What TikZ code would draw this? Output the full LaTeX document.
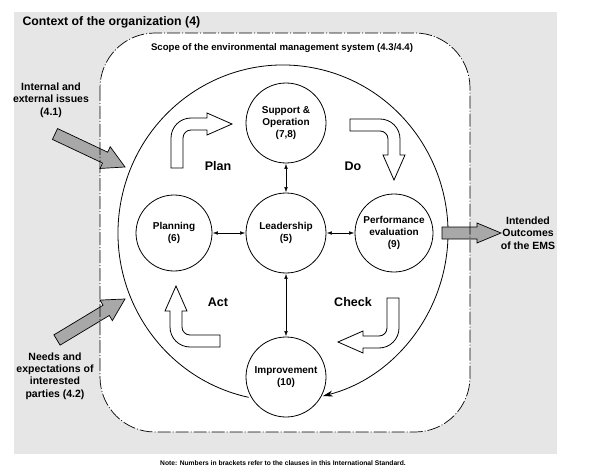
\documentclass[tikz,border=0pt]{standalone}
\usepackage{fontspec}
\setmainfont{Liberation Sans}
\usetikzlibrary{arrows.meta,calc}
\definecolor{bggray}{HTML}{E6E6E6}
\definecolor{arrgray}{HTML}{A8A8A8}
\tikzset{
  proc/.style={circle,draw,line width=0.8pt,fill=white,minimum size=80pt,inner sep=0pt,align=center,font=\bfseries\fontsize{10}{12}\selectfont},
  lbl/.style={align=center,font=\bfseries\fontsize{10.5}{12.3}\selectfont},
  phase/.style={font=\bfseries\fontsize{12.5}{14}\selectfont},
  link/.style={line width=0.5pt,{Latex[length=5pt,width=3.6pt]}-{Latex[length=5pt,width=3.6pt]},shorten >=0.5pt,shorten <=0.5pt},
  hollow/.style={draw,line width=0.8pt,fill=white},
  scopeline/.style={line width=0.7pt,dash pattern=on 13pt off 2pt on 1pt off 2pt}
}
\newcommand\GBarrow[4]{% tail, tip, head length, head half width
  \coordinate (gbH) at ($(#2)!#3!(#1)$);
  \draw[line width=0.7pt,fill=arrgray]
    ($(#1)!6pt!90:(#2)$) --
    ($(gbH)!6pt!90:(#2)$) --
    ($(gbH)!#4!90:(#2)$) --
    (#2) --
    ($(gbH)!#4!-90:(#2)$) --
    ($(gbH)!6pt!-90:(#2)$) --
    ($(#1)!6pt!-90:(#2)$) -- cycle;}
\newcommand\CycleArrow{%
  \path[hollow] (-114,-65) -- (-114,-95) arc[start angle=180,end angle=270,radius=20]
    -- (-78,-115) -- (-78,-120) -- (-53,-109) -- (-78,-98) -- (-78,-103) -- (-94,-103)
    arc[start angle=270,end angle=180,radius=8] -- (-102,-65) -- cycle;}
\begin{document}
\begin{tikzpicture}[x=1pt,y=-1pt]
\useasboundingbox (0,0) rectangle (589,476);
\fill[white] (0,0) rectangle (589,476);
\fill[bggray] (14,12) rectangle (557,454);
\fill[white,rounded corners=55pt] (100,33) rectangle (470,432);

\node[anchor=west,font=\bfseries\fontsize{12.3}{15}\selectfont] (title) at (19,22) {Context of the organization (4)};
\node[font=\bfseries\fontsize{9.6}{11}\selectfont] (scopet) at (282,48) {Scope of the environmental management system (4.3/4.4)};

% big cycle
\coordinate (E) at (283,233);
\draw[line width=0.8pt,-{Stealth[length=10pt,width=6pt]}] ([shift={(102:165 and 168)}]E) arc[start angle=102,end angle=436,x radius=165,y radius=168];

% hollow cycle arrows
\begin{scope}[shift={(285,233)}]\CycleArrow\end{scope}
\begin{scope}[shift={(285,233)},rotate=-90]\CycleArrow\end{scope}
\begin{scope}[shift={(285,233)},rotate=-180]\CycleArrow\end{scope}
\begin{scope}[shift={(285,233)},rotate=-270]\CycleArrow\end{scope}

% process circles
\node[proc] (supp) at (286,123) {Support \&\\Operation\\(7,8)};
\node[proc] (lead) at (286,233) {Leadership\\(5)};
\node[proc,minimum size=76pt] (plan) at (174,233) {Planning\\(6)};
\node[proc,minimum size=78pt] (perf) at (394,233) {Performance\\evaluation\\(9)};
\node[proc] (impr) at (286,377) {Improvement\\(10)};

\draw[link] (lead) -- (supp);
\draw[link] (lead) -- (plan);
\draw[link] (lead) -- (perf);
\draw[link] (lead) -- (impr);

\node[phase] (tplan) at (218,166) {Plan};
\node[phase] (tdo) at (353,166) {Do};
\node[phase] (tact) at (218,302) {Act};
\node[phase] (tcheck) at (353,302) {Check};

% external labels
\node[lbl] (iss) at (51,100) {Internal and\\external issues\\(4.1)};
\node[lbl] (needs) at (55,376) {Needs and\\expectations of\\interested\\parties (4.2)};
\node[lbl] (out) at (528,233) {Intended\\Outcomes\\of the EMS};

% gray arrows
\coordinate (a1t) at (55,134); \coordinate (a1h) at (125,167);
\coordinate (a2t) at (57,340); \coordinate (a2h) at (125,299);
\coordinate (a3t) at (442,233); \coordinate (a3h) at (501,233);
\GBarrow{a1t}{a1h}{22pt}{12pt}
\GBarrow{a2t}{a2h}{22pt}{12pt}
\GBarrow{a3t}{a3h}{24pt}{10pt}

% scope border on top
\draw[scopeline,rounded corners=55pt] (100,33) rectangle (470,432);

\node[font=\bfseries\fontsize{6.7}{8}\selectfont] (note) at (283,463) {Note: Numbers in brackets refer to the clauses in this International Standard.};
\end{tikzpicture}
\end{document}
